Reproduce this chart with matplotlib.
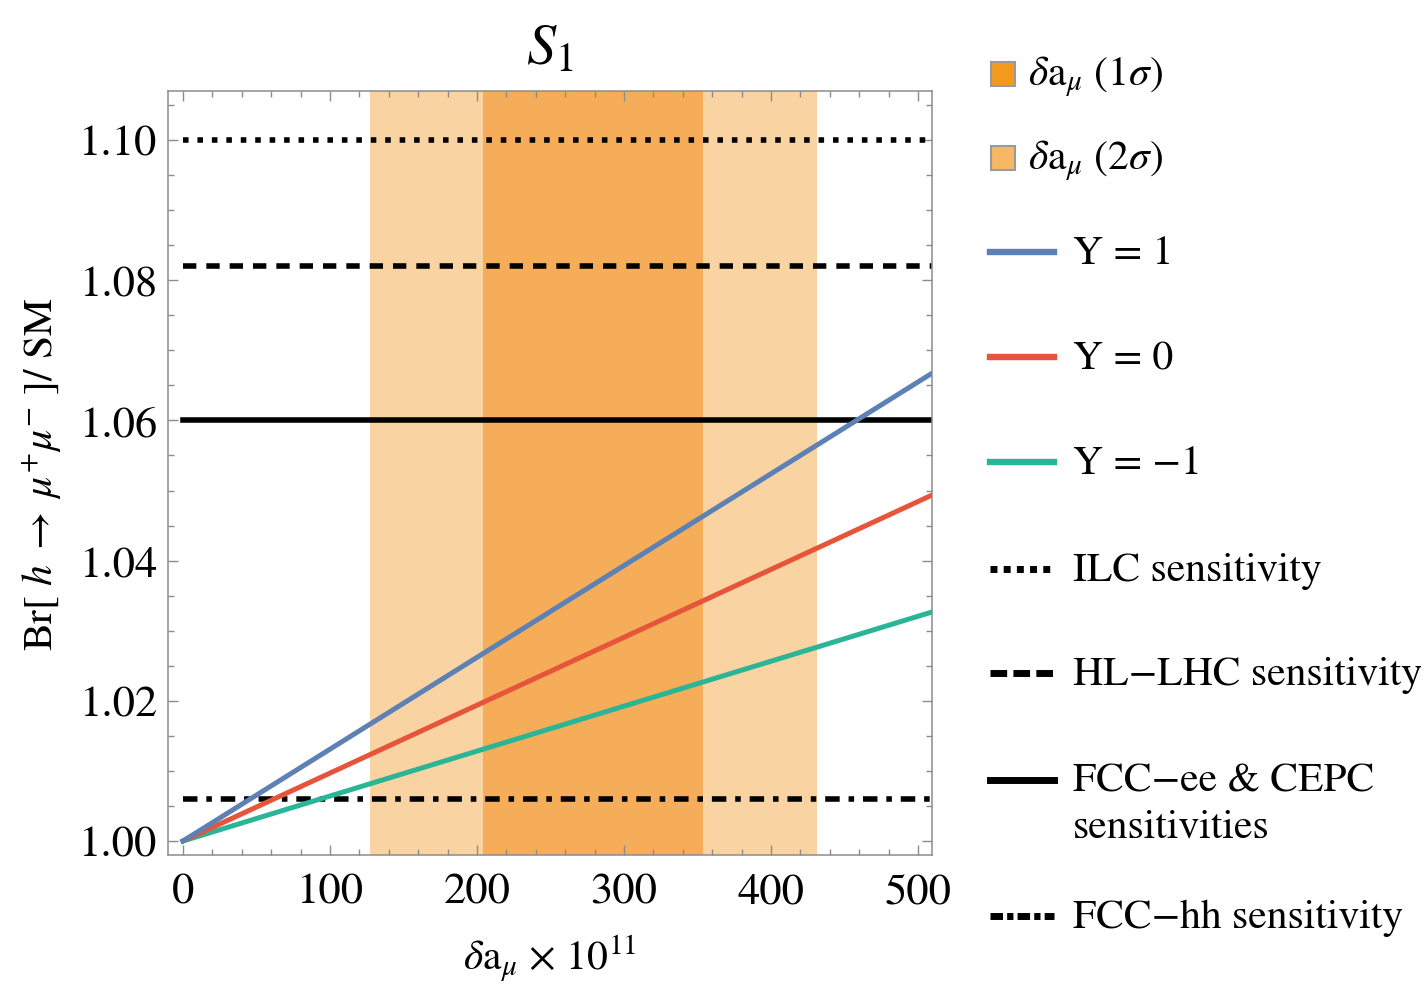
"""
plot.py
Br[h -> mu mu]/SM versus delta a_mu for the S1 leptoquark, with the
delta a_mu bands and the future collider sensitivities.
"""

import matplotlib
matplotlib.use("Agg")
import matplotlib.pyplot as plt
from matplotlib.lines import Line2D
from matplotlib.patches import Rectangle
from matplotlib.transforms import Affine2D

plt.rcParams["font.family"] = ["STIXGeneral", "DejaVu Serif"]
plt.rcParams["mathtext.fontset"] = "stix"

# ---- data ----
delta_a = [0, 510]                      # delta a_mu x 1e11
br_y_plus1 = [1.000, 1.0668]            # Y = 1
br_y_zero = [1.000, 1.0494]             # Y = 0
br_y_minus1 = [1.000, 1.0327]           # Y = -1

band_1sigma = (204, 354)
band_2sigma = (127, 431)

sens_ilc = 1.100
sens_hllhc = 1.082
sens_fccee = 1.060
sens_fcchh = 1.006

x_ticks = [0, 100, 200, 300, 400, 500]
y_ticks = [1.00, 1.02, 1.04, 1.06, 1.08, 1.10]
y_tick_labels = ["1.00", "1.02", "1.04", "1.06", "1.08", "1.10"]

# ---- styles ----
c_blue = "#5e81b5"
c_red = "#e6543a"
c_green = "#2ab596"
c_1s = "#f5ad59"
c_2s = "#f9d3a1"
frame = "#8c8c8c"

ls_dot = (0, (1.0, 1.6))
ls_dash = (0, (2.4, 1.8))
ls_dashdot = (0, (2.6, 1.6, 1.0, 1.6))

W, H = 1427, 987
fig = plt.figure(figsize=(W / 100, H / 100), dpi=100)
ax = fig.add_axes([168 / W, 1 - 856 / H, 764 / W, 764 / H])

ax.axvspan(*band_2sigma, color=c_2s, lw=0, zorder=0)
ax.axvspan(*band_1sigma, color=c_1s, lw=0, zorder=0.5)

lw_k = 4.0
ax.plot([0, delta_a[-1]], [sens_ilc] * 2, color="k", lw=lw_k, ls=ls_dot, zorder=2)
ax.plot([0, delta_a[-1]], [sens_hllhc] * 2, color="k", lw=lw_k, ls=ls_dash, zorder=2)
ax.plot([0, delta_a[-1]], [sens_fccee] * 2, color="k", lw=lw_k, zorder=2)
ax.plot([0, delta_a[-1]], [sens_fcchh] * 2, color="k", lw=lw_k, ls=ls_dashdot, zorder=2)

ax.plot(delta_a, br_y_minus1, color=c_green, lw=3.6, zorder=3)
ax.plot(delta_a, br_y_zero, color=c_red, lw=3.6, zorder=3)
ax.plot(delta_a, br_y_plus1, color=c_blue, lw=3.6, zorder=3)

ax.set_xlim(-10.2, 509.5)
ax.set_ylim(0.998, 1.107)
ax.set_xticks(x_ticks)
ax.set_xticks(range(20, 501, 20), minor=True)
ax.set_yticks(y_ticks, y_tick_labels)
ax.set_yticks([1.0 + 0.005 * i for i in range(22)], minor=True)

for s in ax.spines.values():
    s.set_color(frame)
    s.set_linewidth(1.1)
    s.set_zorder(5)
ax.tick_params(which="both", direction="in", top=True, right=True,
               color=frame, width=1.0, labelsize=32, zorder=5)
ax.tick_params(which="major", length=7)
ax.tick_params(axis="x", which="major", pad=13)
ax.tick_params(axis="y", which="major", pad=8)
ax.tick_params(which="minor", length=4.5)

ax.set_title(r"$S_1$", fontsize=42, pad=20)
ax.set_xlabel(r"$\delta\mathrm{a}_{\mu}$ × $10^{11}$", fontsize=30, labelpad=15)
ax.set_ylabel(r"Br[ $h\;\rightarrow\;\mu^{+}\mu^{-}$ ]/ SM", fontsize=30)
ax.yaxis.set_label_coords(-0.136, 0.5)

# ---- legend on the right, laid out in pixel units ----
px = Affine2D().scale(1 / W, -1 / H).translate(0, 1) + fig.transFigure
fs_leg = 30

swatches = [("#f39a1e", r"$\delta\mathrm{a}_{\mu}$ (1$\sigma$)", 75),
            ("#f8b764", r"$\delta\mathrm{a}_{\mu}$ (2$\sigma$)", 159)]
for col, lab, yc in swatches:
    fig.add_artist(Rectangle((991, yc - 12), 24, 24, facecolor=col,
                             edgecolor="#9a9a9a", lw=1.5, transform=px))
    fig.text(1028 / W, 1 - (yc + 10) / H, lab, fontsize=fs_leg, va="baseline")

handles = [(c_blue, "-", 4.6, "Y = 1", 253),
           (c_red, "-", 4.6, "Y = 0", 358),
           (c_green, "-", 4.6, "Y = −1", 463),
           ("k", (0, (1.0, 0.9)), 5.0, "ILC sensitivity", 570),
           ("k", (0, (2.4, 0.9)), 5.0, "HL−LHC sensitivity", 674),
           ("k", "-", 5.0, "FCC−ee & CEPC\nsensitivities", 781),
           ("k", (0, (1.8, 0.6, 0.9, 0.6)), 5.0, "FCC−hh sensitivity", 917)]
for col, ls, lw, lab, yc in handles:
    fig.add_artist(Line2D([990, 1054], [yc, yc], color=col, ls=ls, lw=lw,
                          transform=px))
    for k, part in enumerate(lab.split("\n")):
        fig.text(1073 / W, 1 - (yc + 11 + 46 * k) / H, part,
                 fontsize=fs_leg, va="baseline")

fig.savefig("out.png", dpi=100)
